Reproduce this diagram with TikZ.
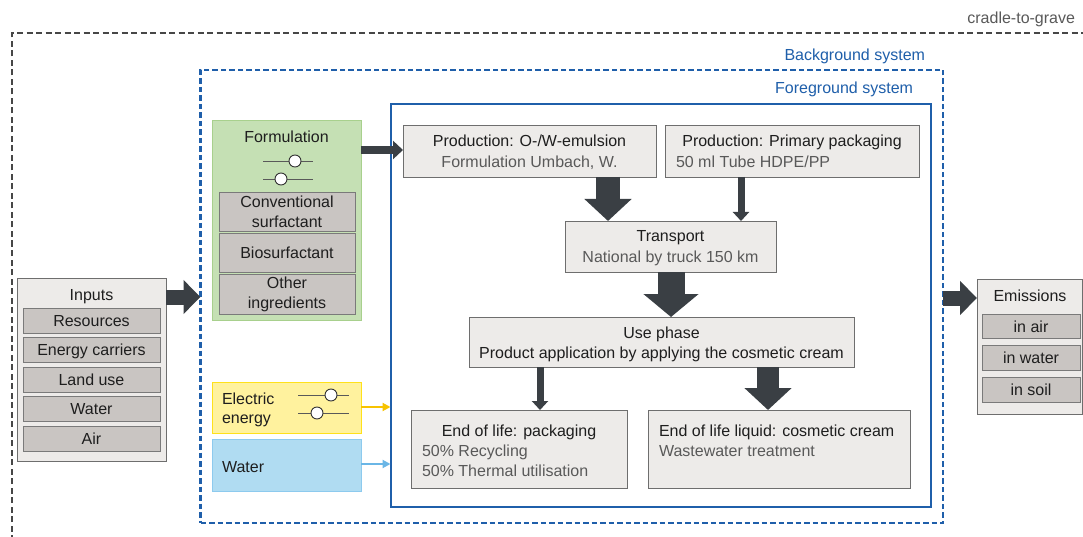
\documentclass[tikz,border=0pt]{standalone}
\usepackage{fontspec}
\setmainfont{Liberation Sans}
\usetikzlibrary{arrows.meta,calc,fit}
\definecolor{dkline}{HTML}{474747}
\definecolor{bluesys}{HTML}{1F5FAA}
\definecolor{boxfill}{HTML}{EDEBE9}
\definecolor{boxline}{HTML}{6E6E6E}
\definecolor{itemfill}{HTML}{C9C5C2}
\definecolor{itemline}{HTML}{7A7A7A}
\definecolor{greenfill}{HTML}{C5E0B4}
\definecolor{greenline}{HTML}{A8D08D}
\definecolor{yelfill}{HTML}{FFF29E}
\definecolor{yelline}{HTML}{FFE11A}
\definecolor{bluefill}{HTML}{B0DCF2}
\definecolor{blueline}{HTML}{8DCAEE}
\definecolor{arrowdk}{HTML}{3A3F44}
\definecolor{txt}{HTML}{1E1E1E}
\definecolor{subtxt}{HTML}{595959}
\definecolor{yelarrow}{HTML}{F7C300}
\definecolor{bluearrow}{HTML}{6AB6E6}
\begin{document}
\begin{tikzpicture}[x=1pt,y=-1pt,
  every node/.style={font=\fontsize{16}{20}\selectfont, text=txt, inner sep=0pt, outer sep=0pt},
  lbl/.style={anchor=base},
  lblw/.style={anchor=base west},
  sublbl/.style={anchor=base, text=subtxt},
  sublblw/.style={anchor=base west, text=subtxt},
  box/.style={draw=boxline, fill=boxfill, line width=0.9pt, inner sep=0pt},
  item/.style={draw=itemline, fill=itemfill, line width=0.9pt, text height=11.5pt, text depth=0pt, align=center},
  itemtwo/.style={draw=itemline, fill=itemfill, line width=0.9pt, align=center},
  greenbox/.style={draw=greenline, fill=greenfill, line width=0.9pt},
  yelbox/.style={draw=yelline, fill=yelfill, line width=0.9pt},
  bluebox/.style={draw=blueline, fill=bluefill, line width=0.9pt},
  bgsys/.style={draw=bluesys, line width=2.4pt, dash pattern=on 5.5pt off 3pt},
  fgsys/.style={draw=bluesys, line width=2pt},
  outersys/.style={draw=dkline, line width=2.3pt, dash pattern=on 6pt off 3.5pt},
  sline/.style={draw=black!65, line width=0.8pt},
  knob/.style={circle, draw=black!80, fill=white, line width=0.9pt, minimum size=12pt},
  bigar/.style={draw=arrowdk, line width=#1, -{Triangle[width=46pt,length=22pt]}},
  hugear/.style={draw=arrowdk, line width=27pt, -{Triangle[width=54pt,length=23pt]}},
  medar/.style={draw=arrowdk, line width=15pt, -{Triangle[width=33pt,length=17pt]}},
  thinar/.style={draw=arrowdk, line width=7pt, -{Triangle[width=16pt,length=9pt]}},
  formar/.style={draw=arrowdk, line width=8pt, -{Triangle[width=18pt,length=10pt]}},
  colar/.style={draw=#1, line width=2.2pt, -{Triangle[width=8pt,length=8pt]}}
]
\useasboundingbox (0,0) rectangle (1083,537);
\fill[white] (0,0) rectangle (1083,537);

% system boundaries
\draw[outersys] (12,560) -- (12,33) -- (1100,33);
\node[anchor=base east, text=subtxt] (lcradle) at (1075,24) {cradle-to-grave};
\node[bgsys, fit={(200.5,70) (943,523)}] (bg) {};
\node[anchor=base east, text=bluesys] (lbg) at (925,61) {Background system};
\node[fgsys, fit={(390.5,104) (931,507)}] (fg) {};
\node[anchor=base east, text=bluesys] (lfg) at (913,94) {Foreground system};

% Inputs
\node[box, fit={(17,278) (166,461)}] (inputs) {};
\node[lbl] (tinputs) at (91.5,300) {Inputs};
\node[item, minimum width=137pt, minimum height=25pt] (res) at (91.5,320.5) {Resources};
\node[item, minimum width=137pt, minimum height=25pt] (enc) at (91.5,350) {Energy carriers};
\node[item, minimum width=137pt, minimum height=25pt] (land) at (91.5,379.5) {Land use};
\node[item, minimum width=137pt, minimum height=25pt] (wat) at (91.5,409) {Water};
\node[item, minimum width=137pt, minimum height=25pt] (air) at (91.5,439) {Air};

% Emissions
\node[box, fit={(977,279) (1082,414)}] (emis) {};
\node[lbl] (temis) at (1030,301) {Emissions};
\node[item, minimum width=98pt, minimum height=24pt] (eair) at (1031,326.5) {in air};
\node[item, minimum width=98pt, minimum height=25pt] (ewat) at (1031,357.5) {in water};
\node[item, minimum width=98pt, minimum height=25pt] (esoil) at (1031,390) {in soil};

% Formulation
\node[greenbox, fit={(212,120) (361,320)}] (form) {};
\node[lbl] (tform) at (286.5,143) {Formulation};
\draw[sline] (263,161) -- (313,161);
\node[knob] (fk1) at (295,161) {};
\draw[sline] (263,179) -- (313,179);
\node[knob] (fk2) at (281,179) {};
\node[itemtwo, minimum width=136pt, minimum height=39pt] (conv) at (287,211.5) {Conventional\\surfactant};
\node[item, minimum width=136pt, minimum height=39pt] (bios) at (287,252.5) {Biosurfactant};
\node[itemtwo, minimum width=136pt, minimum height=40pt] (other) at (287,294) {Other\\ingredients};

% Electric energy
\node[yelbox, fit={(212,382) (361,433)}] (elec) {};
\node[lblw] (telec1) at (222,404) {Electric};
\node[lblw] (telec2) at (222,423) {energy};
\draw[sline] (298,395) -- (349,395);
\node[knob] (ek1) at (331,395) {};
\draw[sline] (298,413) -- (349,413);
\node[knob] (ek2) at (317,413) {};

% Water
\node[bluebox, fit={(212,439) (361,491)}] (water) {};
\node[lblw] (twater) at (222,472) {Water};

% Foreground processes
\node[box, fit={(403,125) (656,177)}] (ow) {};
\node[lbl] (tow1) at (529.5,147) {Production: O-/W-emulsion};
\node[sublbl] (tow2) at (529.5,168) {Formulation Umbach, W.};

\node[box, fit={(665,125) (919,177)}] (pk) {};
\node[lbl] (tpk1) at (792,147) {Production: Primary packaging};
\node[sublblw] (tpk2) at (676,168) {50 ml Tube HDPE/PP};

\node[box, fit={(565,221) (776,272)}] (tr) {};
\node[lbl] (ttr1) at (670.5,242) {Transport};
\node[sublbl] (ttr2) at (670.5,262) {National by truck 150 km};

\node[box, fit={(469,317) (854,367)}] (use) {};
\node[lbl] (tuse1) at (661.5,338) {Use phase};
\node[lbl] (tuse2) at (661.5,358) {Product application by applying the cosmetic cream};

\node[box, fit={(411,410) (627,488)}] (eolp) {};
\node[lbl] (teolp1) at (519,436) {End of life: packaging};
\node[sublblw] (teolp2) at (422,456) {50\% Recycling};
\node[sublblw] (teolp3) at (422,476) {50\% Thermal utilisation};

\node[box, fit={(648,410) (910,488)}] (eolc) {};
\node[lblw] (teolc1) at (659,436) {End of life liquid: cosmetic cream};
\node[sublblw] (teolc2) at (659,456) {Wastewater treatment};

% helper coordinates for arrow lanes
\coordinate (x608) at (608,0);
\coordinate (x741) at (741,0);
\coordinate (x671) at (671,0);
\coordinate (x540) at (540,0);
\coordinate (x768) at (768,0);
\coordinate (y297) at (0,297);
\coordinate (y298) at (0,298);
\coordinate (y150) at (0,150);
\coordinate (y407) at (0,407);
\coordinate (y464) at (0,464);

% arrows
\draw[bigar=24pt] (ow.south -| x608) -- (tr.north -| x608);
\draw[thinar] (pk.south -| x741) -- (tr.north -| x741);
\draw[hugear] (tr.south -| x671) -- (use.north -| x671);
\draw[thinar] (use.south -| x540) -- (eolp.north -| x540);
\draw[bigar=22pt] (use.south -| x768) -- (eolc.north -| x768);
\draw[medar] (inputs.east |- y297) -- (bg.west |- y297);
\draw[medar] (bg.east |- y298) -- (emis.west |- y298);
\draw[formar] (form.east |- y150) -- (ow.west |- y150);
\draw[colar=yelarrow] (elec.east |- y407) -- (fg.west |- y407);
\draw[colar=bluearrow] (water.east |- y464) -- (fg.west |- y464);
\end{tikzpicture}
\end{document}
